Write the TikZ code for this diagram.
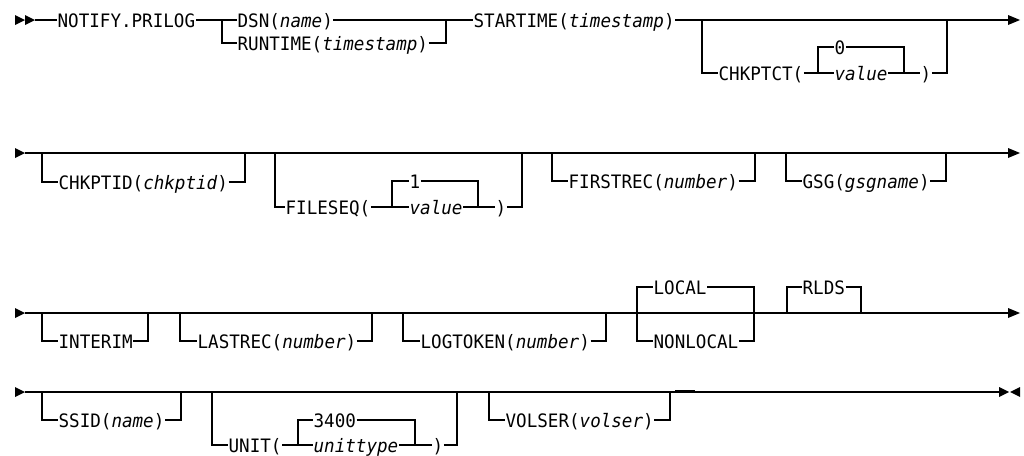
\documentclass[tikz,border=0pt]{standalone}
\usepackage{fontspec}
\setmonofont[FakeStretch=0.95]{DejaVu Sans Mono}
\begin{document}
\begin{tikzpicture}[x=1pt,y=-1pt,line width=1.2pt,
  kw/.style={font=\ttfamily\fontsize{18.5}{20}\selectfont,inner sep=0pt,text height=16.6pt,text depth=2pt,anchor=west},
  rtri/.pic={\fill (0,-5) -- (10,0) -- (0,5) -- cycle;},
  ltri/.pic={\fill (10,-5) -- (0,0) -- (10,5) -- cycle;},
  endtri/.pic={\fill (0,-5) -- (12,0) -- (0,5) -- cycle;}]
\useasboundingbox (0,0) rectangle (1024,455);
% ---------------- row 1 ----------------
\pic at (15,20) {rtri};
\pic at (25,20) {rtri};
\coordinate (s1) at (35,20);
\node[kw] (notify) at (57,20) {NOTIFY.PRILOG};
\draw (s1) -- (notify.west);
\coordinate (b1) at (222,20);
\coordinate (m1) at (446,20);
\node[kw] (dsn) at (237,20) {DSN(\textit{name})};
\node[kw] (runtime) at (237,43) {RUNTIME(\textit{timestamp})};
\draw (notify.east) -- (b1) -- (dsn.west);
\draw (b1) |- (runtime.west);
\draw (dsn.east) -- (m1);
\draw (runtime.east) -| (m1);
\node[kw] (start) at (473,20) {STARTIME(\textit{timestamp})};
\draw (m1) -- (start.west);
\coordinate (e1) at (1008,20);
\draw (start.east) -- (e1);
\pic at (1008,20) {endtri};
\coordinate (c1a) at (702,20);
\coordinate (c1b) at (947,20);
\coordinate (c1i) at (818,73);
\coordinate (c1j) at (904,73);
\node[kw] (chkptct) at (718,73) {CHKPTCT(};
\node[kw] (zero) at (834,47) {0};
\node[kw] (valueA) at (834,73) {\textit{value}};
\node[kw] (rpA) at (920,73) {)};
\draw (c1a) |- (chkptct.west);
\draw (chkptct.east) -- (valueA.west);
\draw (c1i) |- (zero.west);
\draw (zero.east) -| (c1j);
\draw (valueA.east) -- (rpA.west);
\draw (rpA.east) -| (c1b);
% ---------------- row 2 ----------------
\pic at (15,153) {rtri};
\coordinate (s2) at (25,153);
\coordinate (e2) at (1008,153);
\draw (s2) -- (e2);
\pic at (1008,153) {endtri};
\coordinate (c2a) at (42,153);
\coordinate (c2b) at (245,153);
\node[kw] (chkptid) at (58,182) {CHKPTID(\textit{chkptid})};
\draw (c2a) |- (chkptid.west);
\draw (chkptid.east) -| (c2b);
\coordinate (f2a) at (275,153);
\coordinate (f2b) at (522,153);
\coordinate (f2i) at (392,207);
\coordinate (f2j) at (478,207);
\node[kw] (fileseq) at (285,207) {FILESEQ(};
\node[kw] (one) at (409,181) {1};
\node[kw] (valueB) at (409,207) {\textit{value}};
\node[kw] (rpB) at (495,207) {)};
\draw (f2a) |- (fileseq.west);
\draw (fileseq.east) -- (valueB.west);
\draw (f2i) |- (one.west);
\draw (one.east) -| (f2j);
\draw (valueB.east) -- (rpB.west);
\draw (rpB.east) -| (f2b);
\coordinate (r2a) at (552,153);
\coordinate (r2b) at (755,153);
\node[kw] (firstrec) at (568,181) {FIRSTREC(\textit{number})};
\draw (r2a) |- (firstrec.west);
\draw (firstrec.east) -| (r2b);
\coordinate (g2a) at (786,153);
\coordinate (g2b) at (946,153);
\node[kw] (gsg) at (802,181) {GSG(\textit{gsgname})};
\draw (g2a) |- (gsg.west);
\draw (gsg.east) -| (g2b);
% ---------------- row 3 ----------------
\pic at (15,313) {rtri};
\coordinate (s3) at (25,313);
\coordinate (e3) at (1008,313);
\draw (s3) -- (e3);
\pic at (1008,313) {endtri};
\coordinate (i3a) at (42,313);
\coordinate (i3b) at (148,313);
\node[kw] (interim) at (58,341) {INTERIM};
\draw (i3a) |- (interim.west);
\draw (interim.east) -| (i3b);
\coordinate (l3a) at (180,313);
\coordinate (l3b) at (372,313);
\node[kw] (lastrec) at (197,341) {LASTREC(\textit{number})};
\draw (l3a) |- (lastrec.west);
\draw (lastrec.east) -| (l3b);
\coordinate (t3a) at (403,313);
\coordinate (t3b) at (606,313);
\node[kw] (logtoken) at (420,341) {LOGTOKEN(\textit{number})};
\draw (t3a) |- (logtoken.west);
\draw (logtoken.east) -| (t3b);
\coordinate (o3a) at (637,313);
\coordinate (o3b) at (754,313);
\node[kw] (local) at (653,287) {LOCAL};
\node[kw] (nonlocal) at (653,341) {NONLOCAL};
\draw (o3a) |- (local.west);
\draw (o3a) |- (nonlocal.west);
\draw (local.east) -| (o3b);
\draw (nonlocal.east) -| (o3b);
\coordinate (d3a) at (787,313);
\coordinate (d3b) at (861,313);
\node[kw] (rlds) at (802,287) {RLDS};
\draw (d3a) |- (rlds.west);
\draw (rlds.east) -| (d3b);
% ---------------- row 4 ----------------
\pic at (15,392) {rtri};
\coordinate (s4) at (25,392);
\coordinate (e4) at (999,392);
\draw (s4) -- (e4);
\pic at (999,392) {rtri};
\pic at (1010,392) {ltri};
\coordinate (q4a) at (42,392);
\coordinate (q4b) at (181,392);
\node[kw] (ssid) at (58,420) {SSID(\textit{name})};
\draw (q4a) |- (ssid.west);
\draw (ssid.east) -| (q4b);
\coordinate (u4a) at (212,392);
\coordinate (u4b) at (457,392);
\coordinate (u4i) at (298,445);
\coordinate (u4j) at (415,445);
\node[kw] (unit) at (228,445) {UNIT(};
\node[kw] (n3400) at (313,420) {3400};
\node[kw] (unittype) at (313,445) {\textit{unittype}};
\node[kw] (rpC) at (432,445) {)};
\draw (u4a) |- (unit.west);
\draw (unit.east) -- (unittype.west);
\draw (u4i) |- (n3400.west);
\draw (n3400.east) -| (u4j);
\draw (unittype.east) -- (rpC.west);
\draw (rpC.east) -| (u4b);
\coordinate (v4a) at (489,392);
\coordinate (v4b) at (670,392);
\node[kw] (volser) at (505,420) {VOLSER(\textit{volser})};
\draw (v4a) |- (volser.west);
\draw (volser.east) -| (v4b);
\coordinate (k4a) at (675,391.5);
\coordinate (k4b) at (695,391.5);
\draw[line width=2.4pt] (k4a) -- (k4b);
\end{tikzpicture}
\end{document}
